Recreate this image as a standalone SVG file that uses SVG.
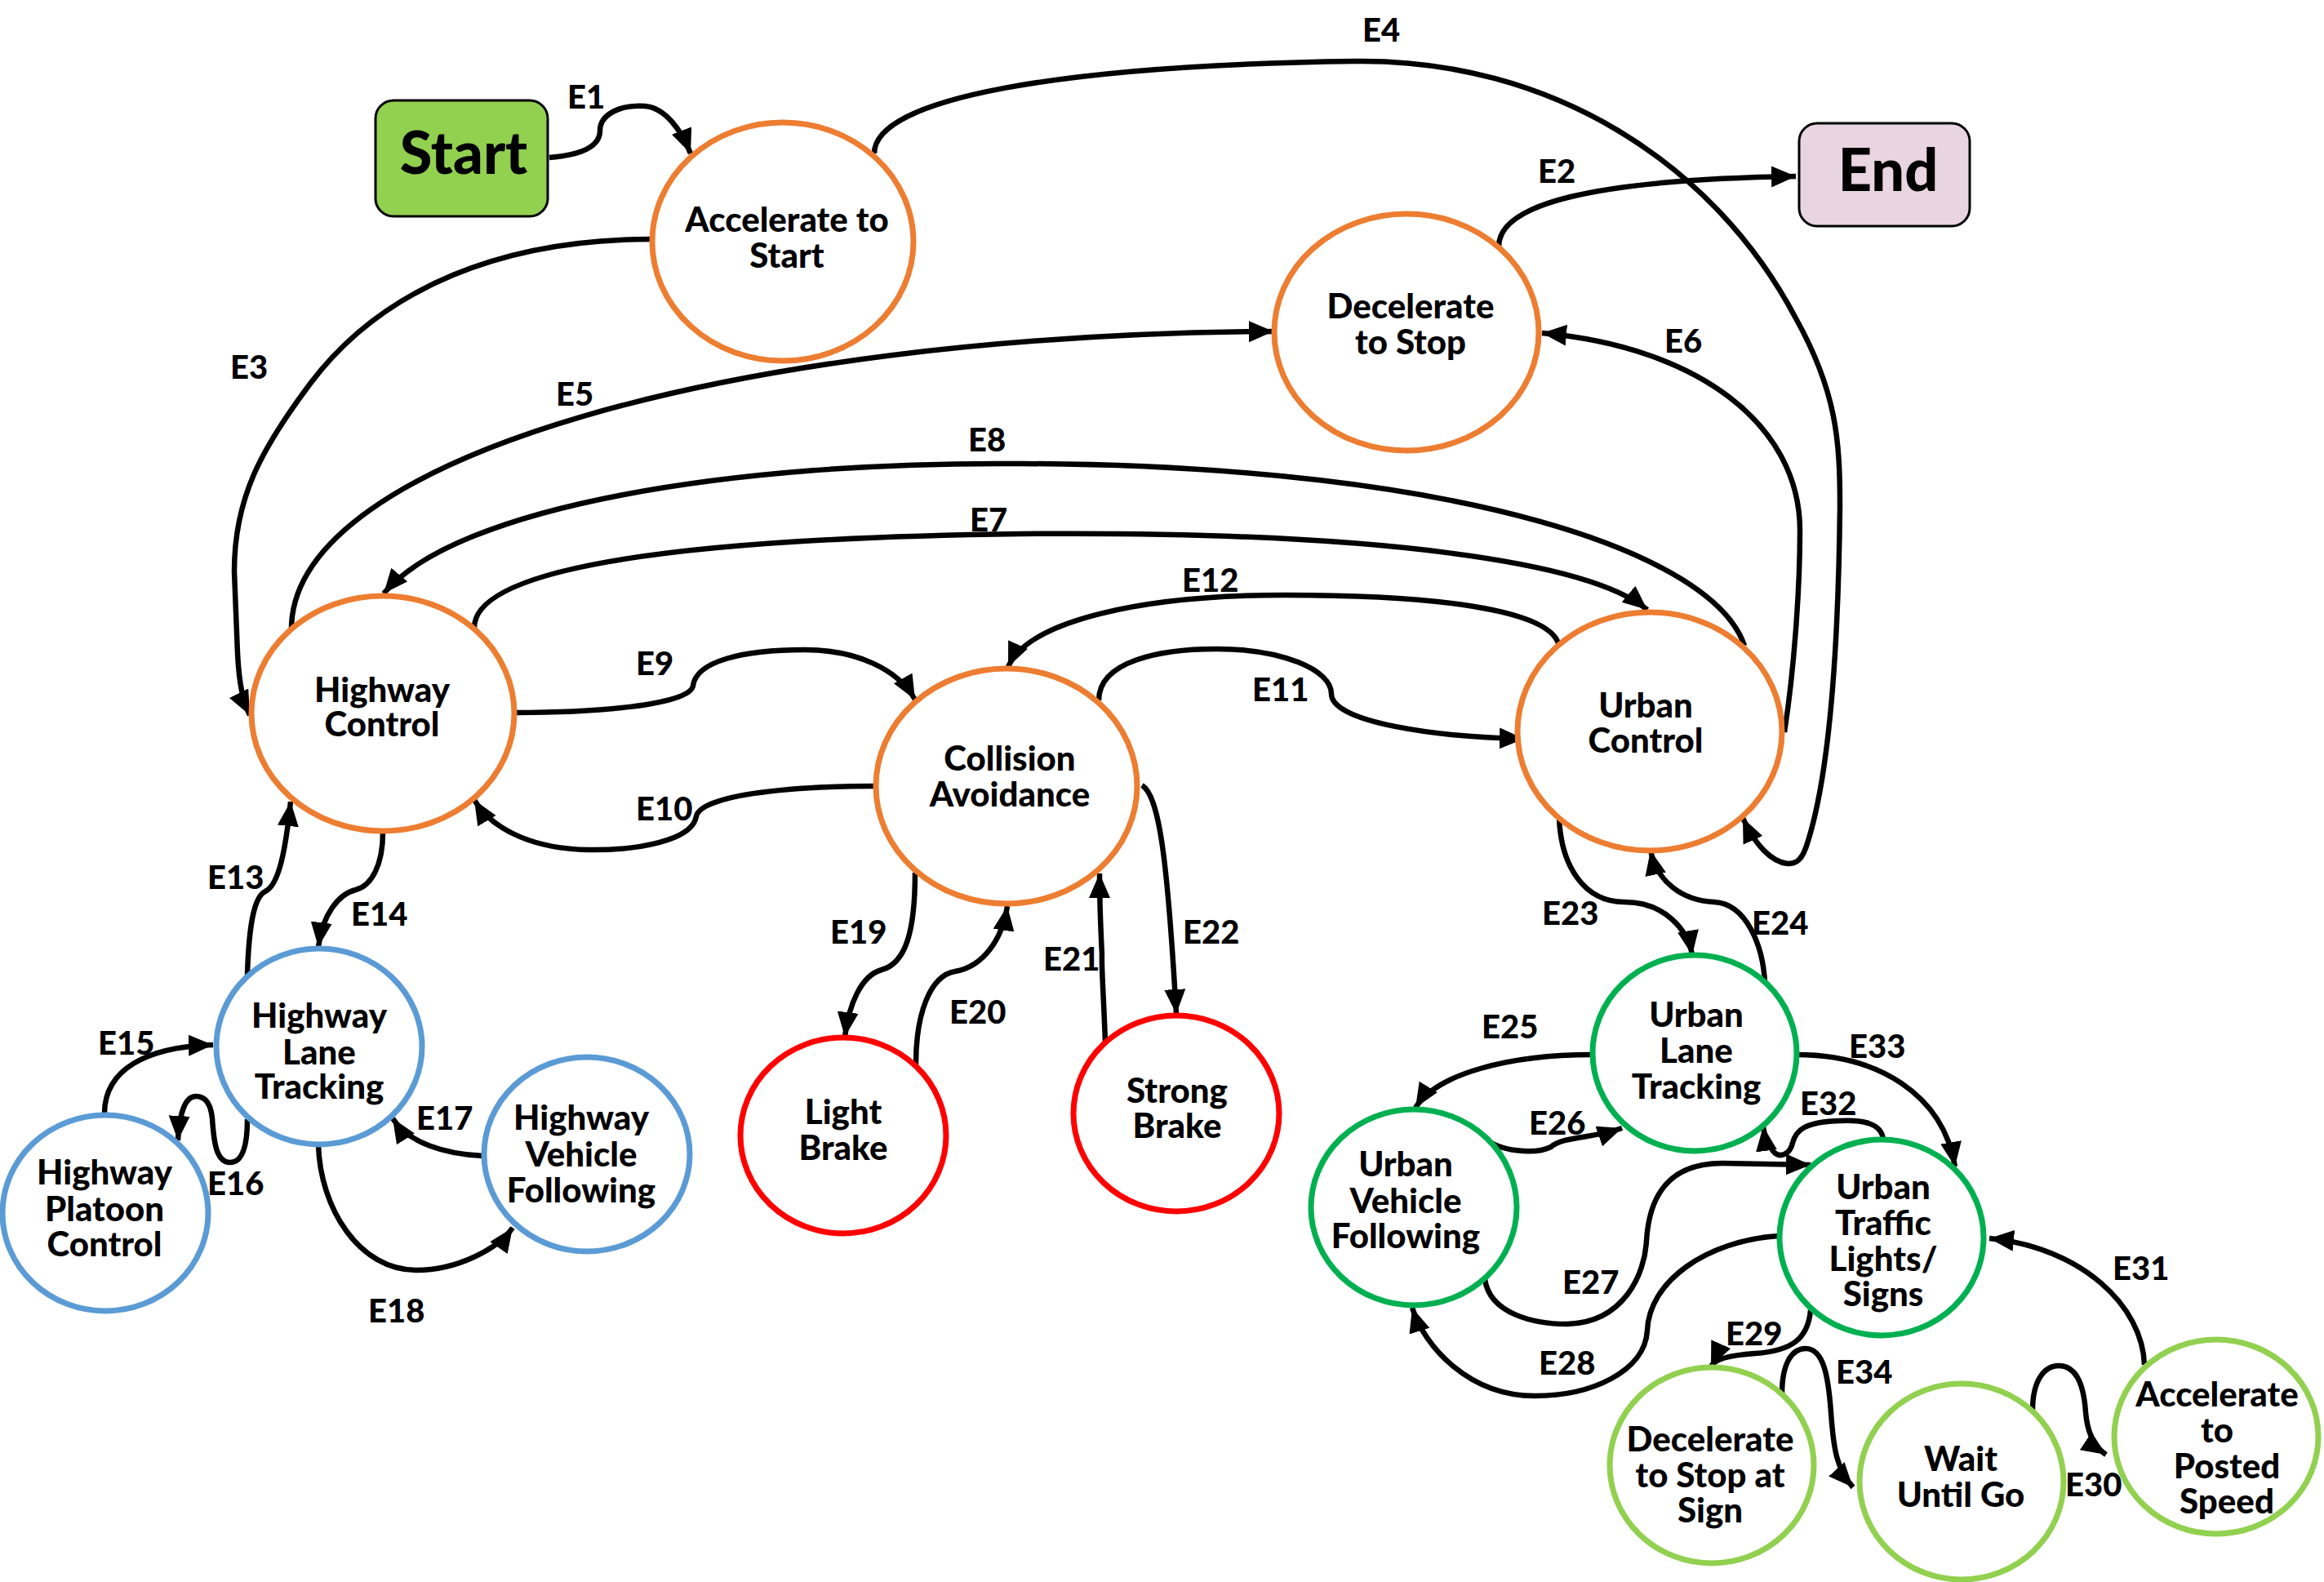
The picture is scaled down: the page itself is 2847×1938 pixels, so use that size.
<svg xmlns="http://www.w3.org/2000/svg" width="2847" height="1938" viewBox="0 0 2847 1938">
<defs>
<marker id="arr" markerUnits="userSpaceOnUse" markerWidth="34" markerHeight="30" refX="30" refY="13" orient="auto">
<path d="M0,0 L30,13 L0,26 z" fill="#000"/>
</marker>
<style>
text{font-family:Lato,"Liberation Sans",sans-serif;font-weight:900;fill:#000}
.n{font-size:42px;text-anchor:middle}
.big{font-size:72px;text-anchor:middle}
.lbl{font-size:40px}
.e{fill:#fff;stroke-width:7}
.or{stroke:#ED7D31}
.bl{stroke:#5B9BD5}
.rd{stroke:#FF0000}
.gr{stroke:#00B050}
.lg{stroke:#92D050}
.c{fill:none;stroke:#000;stroke-width:6.5;stroke-linecap:butt}
.a{marker-end:url(#arr)}
</style>
</defs>
<rect width="2847" height="1938" fill="#fff"/>

<g id="connectors">
<path class="c a" id="E1" d="M673,193 C710,190 735,180 735,160 C735,140 760,128 790,130 C815,132 835,160 846,188"/>
<path class="c a" id="E2" d="M1836,302 C1836,250 1950,220 2200,216"/>
<path class="c a" id="E3" d="M797,293 C620,293 470,350 380,470 C320,550 287,610 287,700 L291,800 C293,840 298,860 306,876"/>
<path class="c a" id="E4" d="M1071,188 C1071,120 1300,80 1660,75 C1900,72 2100,200 2200,390 C2250,480 2254,540 2254,620 C2252,800 2240,950 2215,1030 C2208,1055 2200,1058 2190,1058 C2170,1056 2150,1035 2135,1002"/>
<path class="c a" id="E5" d="M357,769 C360,560 900,410 1560,406"/>
<path class="c a" id="E6" d="M2186,897 C2198,820 2205,720 2205,650 C2205,520 2080,425 1889,408"/>
<path class="c a" id="E7" d="M581,769 C581,700 800,660 1250,654 C1700,650 1950,690 2018,747"/>
<path class="c a" id="E8" d="M2137,791 C2100,680 1800,570 1250,568 C900,565 560,620 470,727"/>
<path class="c a" id="E9" d="M631,873 C720,873 845,865 849,840 C853,810 910,796 985,796 C1050,796 1100,820 1121,857"/>
<path class="c a" id="E10" d="M1071,963 C960,963 858,975 853,1000 C848,1030 780,1042 720,1041 C660,1040 605,1020 581,980"/>
<path class="c a" id="E11" d="M1346,858 C1346,810 1420,795 1491,795 C1570,795 1631,820 1631,850 C1631,885 1760,903 1867,905"/>
<path class="c a" id="E12" d="M1910,791 C1900,745 1750,729 1574,729 C1400,729 1260,760 1235,817"/>
<path class="c a" id="E13" d="M303,1194 C305,1130 312,1098 325,1092 C342,1084 350,1040 356,982"/>
<path class="c a" id="E14" d="M469,1020 C469,1060 455,1085 436,1090 C415,1095 395,1120 390,1160"/>
<path class="c a" id="E15" d="M128,1364 C128,1310 180,1282 261,1280"/>
<path class="c a" id="E16" d="M303,1371 C303,1410 295,1424 282,1424 C265,1424 262,1400 260,1370 C258,1350 250,1343 240,1343 C228,1343 220,1360 218,1397"/>
<path class="c a" id="E17" d="M592,1416 C545,1414 500,1400 481,1370"/>
<path class="c a" id="E18" d="M390,1402 C392,1480 440,1556 510,1556 C560,1556 610,1530 628,1504"/>
<path class="c a" id="E19" d="M1121,1069 C1121,1140 1110,1180 1080,1188 C1055,1195 1040,1230 1035,1270"/>
<path class="c a" id="E20" d="M1122,1304 C1122,1240 1140,1195 1170,1190 C1205,1184 1228,1150 1234,1110"/>
<path class="c a" id="E21" d="M1354,1277 C1352,1220 1349,1180 1350,1170 C1348,1130 1347,1100 1347,1070"/>
<path class="c a" id="E22" d="M1399,962 C1420,975 1430,1050 1441,1242"/>
<path class="c a" id="E23" d="M1910,1001 C1912,1060 1940,1105 1990,1105 C2040,1105 2068,1140 2073,1170"/>
<path class="c a" id="E24" d="M2162,1204 C2160,1160 2140,1107 2100,1105 C2060,1103 2030,1080 2022,1042"/>
<path class="c a" id="E25" d="M1950,1292 C1850,1292 1760,1315 1734,1357"/>
<path class="c a" id="E26" d="M1819,1394 C1835,1410 1880,1415 1900,1405 C1915,1392 1950,1395 1987,1382"/>
<path class="c a" id="E27" d="M1819,1567 C1825,1610 1880,1622 1920,1622 C1990,1620 2015,1560 2017,1520 C2020,1470 2040,1425 2110,1425 L2218,1427"/>
<path class="c a" id="E28" d="M2179,1514 C2090,1520 2020,1570 2018,1630 C2015,1680 1950,1710 1880,1710 C1800,1710 1745,1650 1730,1602"/>
<path class="c a" id="E29" d="M2218,1605 C2215,1640 2195,1655 2150,1658 C2120,1660 2100,1665 2096,1674"/>
<path class="c a" id="E30" d="M2490,1728 C2490,1690 2505,1673 2522,1673 C2545,1673 2553,1700 2555,1730 C2557,1755 2565,1772 2580,1782"/>
<path class="c a" id="E31" d="M2627,1672 C2625,1600 2550,1528 2437,1517"/>
<path class="c a" id="E32" d="M2307,1396 C2305,1375 2280,1372 2255,1373 C2210,1374 2200,1385 2196,1400 C2193,1414 2180,1420 2172,1410 C2166,1402 2162,1395 2160,1380"/>
<path class="c a" id="E33" d="M2201,1292 C2300,1292 2380,1340 2395,1429"/>
<path class="c a" id="E34" d="M2183,1708 C2183,1670 2195,1652 2212,1652 C2235,1652 2240,1690 2243,1730 C2246,1775 2250,1800 2270,1822"/>
<g id="edge-labels">
<text class="lbl" x="695" y="133">E1</text>
<text class="lbl" x="1884" y="224">E2</text>
<text class="lbl" x="282" y="464">E3</text>
<text class="lbl" x="1669" y="51">E4</text>
<text class="lbl" x="681" y="497">E5</text>
<text class="lbl" x="2039" y="432">E6</text>
<text class="lbl" x="1188" y="651">E7</text>
<text class="lbl" x="1186" y="553">E8</text>
<text class="lbl" x="779" y="827">E9</text>
<text class="lbl" x="779" y="1005">E10</text>
<text class="lbl" x="1534" y="859">E11</text>
<text class="lbl" x="1448" y="725">E12</text>
<text class="lbl" x="254" y="1089">E13</text>
<text class="lbl" x="430" y="1134">E14</text>
<text class="lbl" x="120" y="1292">E15</text>
<text class="lbl" x="254" y="1464">E16</text>
<text class="lbl" x="510" y="1384">E17</text>
<text class="lbl" x="451" y="1620">E18</text>
<text class="lbl" x="1017" y="1156">E19</text>
<text class="lbl" x="1163" y="1254">E20</text>
<text class="lbl" x="1278" y="1189">E21</text>
<text class="lbl" x="1449" y="1156">E22</text>
<text class="lbl" x="1889" y="1133">E23</text>
<text class="lbl" x="2146" y="1145">E24</text>
<text class="lbl" x="1815" y="1272">E25</text>
<text class="lbl" x="1873" y="1390">E26</text>
<text class="lbl" x="1914" y="1585">E27</text>
<text class="lbl" x="1885" y="1684">E28</text>
<text class="lbl" x="2114" y="1648">E29</text>
<text class="lbl" x="2530" y="1833">E30</text>
<text class="lbl" x="2588" y="1568">E31</text>
<text class="lbl" x="2205" y="1366">E32</text>
<text class="lbl" x="2265" y="1296">E33</text>
<text class="lbl" x="2249" y="1695">E34</text>
</g>
</g>

<g id="start">
<rect x="460" y="123" width="211" height="142" rx="22" fill="#92D050" stroke="#000" stroke-width="3"/>
<text class="big" x="568" y="213">Start</text>
</g>
<g id="end">
<rect x="2204" y="151" width="209" height="126" rx="22" fill="#E8D5E1" stroke="#000" stroke-width="3"/>
<text class="big" x="2313" y="234">End</text>
</g>

<g id="accelerate-to-start">
<ellipse class="e or" cx="959" cy="296" rx="160" ry="146"/>
<text class="n" x="964" y="284">Accelerate to</text>
<text class="n" x="964" y="328">Start</text>
</g>
<g id="decelerate-to-stop">
<ellipse class="e or" cx="1723" cy="407" rx="162" ry="145"/>
<text class="n" x="1728" y="390">Decelerate</text>
<text class="n" x="1728" y="434">to Stop</text>
</g>
<g id="highway-control">
<ellipse class="e or" cx="469" cy="874" rx="161" ry="144"/>
<text class="n" x="468" y="860">Highway</text>
<text class="n" x="468" y="902">Control</text>
</g>
<g id="collision-avoidance">
<ellipse class="e or" cx="1233" cy="963" rx="160" ry="144"/>
<text class="n" x="1237" y="944">Collision</text>
<text class="n" x="1237" y="988">Avoidance</text>
</g>
<g id="urban-control">
<ellipse class="e or" cx="2021" cy="896" rx="162" ry="146"/>
<text class="n" x="2016" y="879">Urban</text>
<text class="n" x="2016" y="922">Control</text>
</g>
<g id="highway-lane-tracking">
<ellipse class="e bl" cx="391" cy="1282" rx="126" ry="120"/>
<text class="n" x="391" y="1259">Highway</text>
<text class="n" x="391" y="1304">Lane</text>
<text class="n" x="391" y="1346">Tracking</text>
</g>
<g id="highway-platoon-control">
<ellipse class="e bl" cx="129" cy="1486" rx="126" ry="120"/>
<text class="n" x="128" y="1451">Highway</text>
<text class="n" x="128" y="1496">Platoon</text>
<text class="n" x="128" y="1539">Control</text>
</g>
<g id="highway-vehicle-following">
<ellipse class="e bl" cx="719" cy="1414" rx="126" ry="119"/>
<text class="n" x="712" y="1384">Highway</text>
<text class="n" x="712" y="1429">Vehicle</text>
<text class="n" x="712" y="1473">Following</text>
</g>
<g id="light-brake">
<ellipse class="e rd" cx="1033" cy="1391" rx="126" ry="120"/>
<text class="n" x="1033" y="1377">Light</text>
<text class="n" x="1033" y="1421">Brake</text>
</g>
<g id="strong-brake">
<ellipse class="e rd" cx="1441" cy="1364" rx="126" ry="120"/>
<text class="n" x="1442" y="1351">Strong</text>
<text class="n" x="1442" y="1394">Brake</text>
</g>
<g id="urban-lane-tracking">
<ellipse class="e gr" cx="2076" cy="1290" rx="125" ry="120"/>
<text class="n" x="2078" y="1258">Urban</text>
<text class="n" x="2078" y="1302">Lane</text>
<text class="n" x="2078" y="1346">Tracking</text>
</g>
<g id="urban-vehicle-following">
<ellipse class="e gr" cx="1732" cy="1479" rx="126" ry="120"/>
<text class="n" x="1722" y="1441">Urban</text>
<text class="n" x="1722" y="1486">Vehicle</text>
<text class="n" x="1722" y="1529">Following</text>
</g>
<g id="urban-traffic-lights-signs">
<ellipse class="e gr" cx="2305" cy="1516" rx="125" ry="120"/>
<text class="n" x="2307" y="1469">Urban</text>
<text class="n" x="2307" y="1513">Traffic</text>
<text class="n" x="2307" y="1557">Lights/</text>
<text class="n" x="2307" y="1600">Signs</text>
</g>
<g id="decelerate-to-stop-at-sign">
<ellipse class="e lg" cx="2097" cy="1795" rx="125" ry="120"/>
<text class="n" x="2095" y="1778">Decelerate</text>
<text class="n" x="2095" y="1822">to Stop at</text>
<text class="n" x="2095" y="1865">Sign</text>
</g>
<g id="wait-until-go">
<ellipse class="e lg" cx="2403" cy="1815" rx="125" ry="120"/>
<text class="n" x="2402" y="1802">Wait</text>
<text class="n" x="2402" y="1846">Until Go</text>
</g>
<g id="accelerate-to-posted-speed">
<ellipse class="e lg" cx="2715" cy="1760" rx="125" ry="119"/>
<text class="n" x="2716" y="1723">Accelerate</text>
<text class="n" x="2716" y="1767">to</text>
<text class="n" x="2728" y="1811">Posted</text>
<text class="n" x="2728" y="1854">Speed</text>
</g>
</svg>
